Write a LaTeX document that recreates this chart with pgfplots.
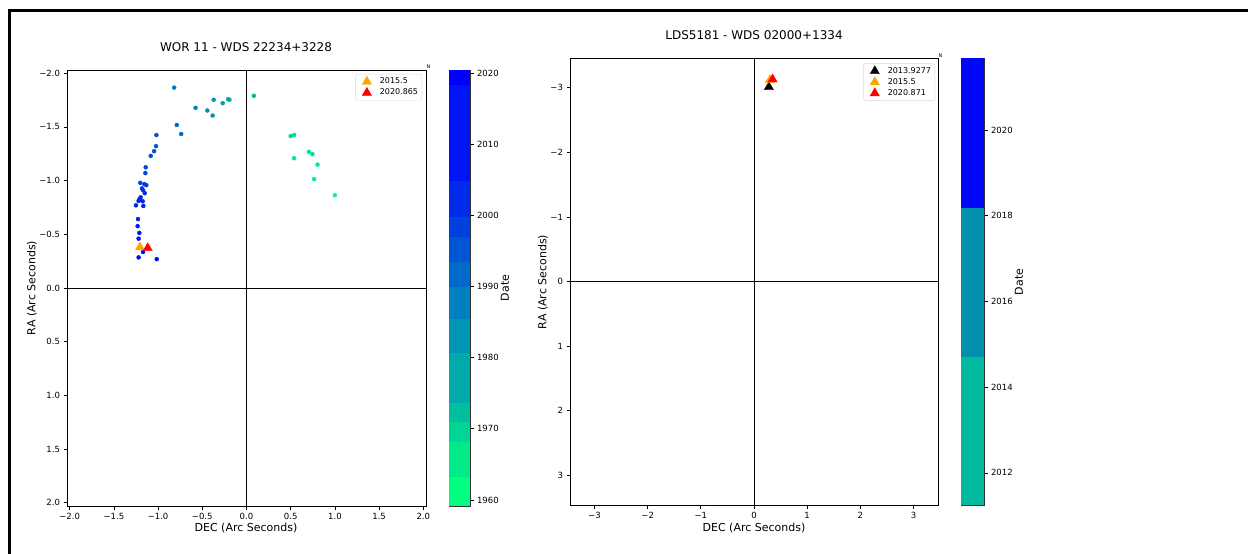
\documentclass[border=0pt]{standalone}
\usepackage{pgfplots}
\pgfplotsset{compat=1.18}
\usepackage{fontspec}
\setmainfont{DejaVu Sans}
\definecolor{mplorange}{RGB}{255,165,0}
\definecolor{mplred}{RGB}{255,0,0}
\pgfplotsset{
  base/.style={
    scale only axis, anchor=south west,
    axis line style={black, line width=0.8pt},
    tick style={black, line width=0.7pt},
    tick align=outside, major tick length=3.5pt,
    tick pos=left,
    /pgf/number format/assume math mode=true,
    tick label style={font=\fontsize{8.5}{10}\selectfont},
    clip=true,
  },
  cbar/.style={
    scale only axis, anchor=south west,
    xmin=0, xmax=1, xtick=\empty,
    axis line style={black!80, line width=0.6pt},
    ytick pos=right, yticklabel pos=right,
    tick style={black, line width=0.7pt},
    tick align=outside, major tick length=3.5pt,
    /pgf/number format/assume math mode=true,
    /pgf/number format/1000 sep={},
    tick label style={font=\fontsize{8.5}{10}\selectfont},
  },
  leg/.style={
    legend style={anchor=north east, draw=black!15,
      rounded corners=2pt, font=\fontsize{8}{9.5}\selectfont,
      inner sep=2pt, row sep=0pt, nodes={inner sep=1.8pt}},
    legend cell align=left,
    legend image code/.code={
      \path (0pt,0pt) (20pt,0pt);
      \draw[##1] plot coordinates {(9pt,0pt)};
    },
  },
}
\pgfplotstableread{
x y c
1.000 -0.864 1960.0
0.765 -1.014 1961.5
0.803 -1.149 1963.0
0.538 -1.208 1964.0
0.705 -1.268 1965.0
0.746 -1.246 1966.0
0.500 -1.415 1968.0
0.538 -1.424 1969.0
0.083 -1.790 1976.0
-0.193 -1.753 1979.0
-0.208 -1.759 1980.0
-0.269 -1.721 1982.0
-0.371 -1.753 1984.0
-0.383 -1.606 1985.0
-0.443 -1.653 1986.0
-0.576 -1.678 1988.0
-0.818 -1.866 1991.0
-0.788 -1.518 1996.0
-0.739 -1.434 1995.0
-1.019 -1.424 1999.0
-1.023 -1.321 2000.0
-1.045 -1.274 2001.0
-1.083 -1.230 2002.0
-1.140 -1.124 2003.0
-1.144 -1.070 2004.0
-1.201 -0.979 2005.0
-1.156 -0.967 2006.0
-1.133 -0.958 2006.5
-1.182 -0.927 2007.0
-1.170 -0.911 2008.0
-1.151 -0.883 2009.0
-1.197 -0.845 2010.0
-1.212 -0.826 2010.5
-1.174 -0.808 2011.0
-1.220 -0.811 2011.5
-1.250 -0.770 2012.0
-1.167 -0.764 2012.5
-1.227 -0.642 2013.0
-1.231 -0.576 2014.0
-1.212 -0.513 2015.0
-1.220 -0.460 2016.0
-1.170 -0.335 2017.0
-1.220 -0.285 2018.0
-1.015 -0.269 2019.0
}\worpts
\begin{document}
\begin{tikzpicture}[x=1pt,y=1pt]
\path[use as bounding box] (0,0) rectangle (1248,554);
\fill[black] (8,542) rectangle (1248,545);
\fill[black] (8,0) rectangle (11,545);

% ---------------- left main axis ----------------
\begin{axis}[base, leg, legend style={at={(0.989,0.991)}},
  at={(67pt,48pt)}, width=359pt, height=436pt,
  xmin=-2.03, xmax=2.03, ymin=-2.03, ymax=2.03, y dir=reverse,
  xtick={-2,-1.5,-1,-0.5,0,0.5,1,1.5,2},
  xticklabels={−2.0,−1.5,−1.0,−0.5,0.0,0.5,1.0,1.5,2.0},
  ytick={-2,-1.5,-1,-0.5,0,0.5,1,1.5,2},
  yticklabels={−2.0,−1.5,−1.0,−0.5,0.0,0.5,1.0,1.5,2.0},
  colormap={winterr}{rgb=(0,1,0.5) rgb=(0,0,1)},
  point meta min=1959.16, point meta max=2020.42]
\addplot[black, line width=0.8pt, forget plot] coordinates {(0,-2.03) (0,2.03)};
\addplot[black, line width=0.8pt, forget plot] coordinates {(-2.03,0) (2.03,0)};
\addplot[scatter, only marks, mark=*, mark size=2pt, scatter src=explicit,
  scatter/use mapped color={draw=mapped color, fill=mapped color}, forget plot]
  table[x=x, y=y, meta=c] {\worpts};
\addplot[only marks, mark=triangle*, mark size=5.3pt, color=mplorange] coordinates {(-1.205,-0.379)};
\addlegendentry{2015.5}
\addplot[only marks, mark=triangle*, mark size=5.3pt, color=mplred] coordinates {(-1.117,-0.372)};
\addlegendentry{2020.865}
\end{axis}

% ---------------- left colorbar ----------------
\begin{axis}[cbar, at={(449pt,48pt)}, width=21pt, height=436pt,
  ymin=1959.16, ymax=2020.42, ytick={1960,1970,...,2020}]
\addplot[fill={rgb,255:red,0;green,255;blue,128}, draw=none] coordinates {(0,1959.16) (1,1959.16) (1,1963.3) (0,1963.3)} -- cycle;
\addplot[fill={rgb,255:red,0;green,234;blue,138}, draw=none] coordinates {(0,1963.3) (1,1963.3) (1,1968.1) (0,1968.1)} -- cycle;
\addplot[fill={rgb,255:red,0;green,213;blue,149}, draw=none] coordinates {(0,1968.1) (1,1968.1) (1,1970.9) (0,1970.9)} -- cycle;
\addplot[fill={rgb,255:red,0;green,191;blue,159}, draw=none] coordinates {(0,1970.9) (1,1970.9) (1,1973.7) (0,1973.7)} -- cycle;
\addplot[fill={rgb,255:red,0;green,170;blue,170}, draw=none] coordinates {(0,1973.7) (1,1973.7) (1,1980.7) (0,1980.7)} -- cycle;
\addplot[fill={rgb,255:red,0;green,149;blue,181}, draw=none] coordinates {(0,1980.7) (1,1980.7) (1,1985.4) (0,1985.4)} -- cycle;
\addplot[fill={rgb,255:red,0;green,128;blue,191}, draw=none] coordinates {(0,1985.4) (1,1985.4) (1,1990.0) (0,1990.0)} -- cycle;
\addplot[fill={rgb,255:red,0;green,106;blue,202}, draw=none] coordinates {(0,1990.0) (1,1990.0) (1,1993.4) (0,1993.4)} -- cycle;
\addplot[fill={rgb,255:red,0;green,85;blue,213}, draw=none] coordinates {(0,1993.4) (1,1993.4) (1,1996.9) (0,1996.9)} -- cycle;
\addplot[fill={rgb,255:red,0;green,64;blue,223}, draw=none] coordinates {(0,1996.9) (1,1996.9) (1,1999.8) (0,1999.8)} -- cycle;
\addplot[fill={rgb,255:red,0;green,43;blue,234}, draw=none] coordinates {(0,1999.8) (1,1999.8) (1,2004.8) (0,2004.8)} -- cycle;
\addplot[fill={rgb,255:red,0;green,21;blue,244}, draw=none] coordinates {(0,2004.8) (1,2004.8) (1,2018.3) (0,2018.3)} -- cycle;
\addplot[fill={rgb,255:red,0;green,0;blue,255}, draw=none] coordinates {(0,2018.3) (1,2018.3) (1,2020.42) (0,2020.42)} -- cycle;
\end{axis}

% ---------------- right main axis ----------------
\begin{axis}[base, leg, legend style={at={(0.992,0.988)}},
  at={(570pt,49pt)}, width=368pt, height=447pt,
  xmin=-3.46, xmax=3.46, ymin=-3.46, ymax=3.46, y dir=reverse,
  xtick={-3,-2,-1,0,1,2,3}, xticklabels={−3,−2,−1,0,1,2,3},
  ytick={-3,-2,-1,0,1,2,3}, yticklabels={−3,−2,−1,0,1,2,3}]
\addplot[black, line width=0.8pt, forget plot] coordinates {(0,-3.46) (0,3.46)};
\addplot[black, line width=0.8pt, forget plot] coordinates {(-3.46,0) (3.46,0)};
\addplot[only marks, mark=triangle*, mark size=5.3pt, color=black] coordinates {(0.28,-3.01)};
\addlegendentry{2013.9277}
\addplot[only marks, mark=triangle*, mark size=5.3pt, color=mplorange] coordinates {(0.30,-3.12)};
\addlegendentry{2015.5}
\addplot[only marks, mark=triangle*, mark size=5.3pt, color=mplred] coordinates {(0.35,-3.13)};
\addlegendentry{2020.871}
\end{axis}

% ---------------- right colorbar ----------------
\begin{axis}[cbar, at={(961pt,49pt)}, width=23pt, height=447pt,
  ymin=2011.25, ymax=2021.68, ytick={2012,2014,...,2020}]
\addplot[fill={rgb,255:red,0;green,187;blue,160}, draw=none] coordinates {(0,2011.25) (1,2011.25) (1,2014.71) (0,2014.71)} -- cycle;
\addplot[fill={rgb,255:red,0;green,143;blue,172}, draw=none] coordinates {(0,2014.71) (1,2014.71) (1,2018.19) (0,2018.19)} -- cycle;
\addplot[fill={rgb,255:red,0;green,8;blue,245}, draw=none] coordinates {(0,2018.19) (1,2018.19) (1,2021.68) (0,2021.68)} -- cycle;
\end{axis}

% ---------------- texts ----------------
\node[font=\fontsize{12}{14}\selectfont] at (246,507) {WOR 11 - WDS 22234+3228};
\node[font=\fontsize{12}{14}\selectfont] at (754,519) {LDS5181 - WDS 02000+1334};
\node[font=\fontsize{11}{13}\selectfont] at (246,26) {DEC (Arc Seconds)};
\node[font=\fontsize{11}{13}\selectfont] at (754,26) {DEC (Arc Seconds)};
\node[font=\fontsize{11}{13}\selectfont, rotate=90] at (32,266) {RA (Arc Seconds)};
\node[font=\fontsize{11}{13}\selectfont, rotate=90] at (543,272) {RA (Arc Seconds)};
\node[font=\fontsize{11}{13}\selectfont, rotate=90] at (505,266) {Date};
\node[font=\fontsize{11}{13}\selectfont, rotate=90] at (1019,272) {Date};
\node[font=\fontsize{5}{5}\selectfont, inner sep=0pt] at (428.5,487) {N};
\node[font=\fontsize{5}{5}\selectfont, inner sep=0pt] at (940.5,498) {N};
\end{tikzpicture}
\end{document}
